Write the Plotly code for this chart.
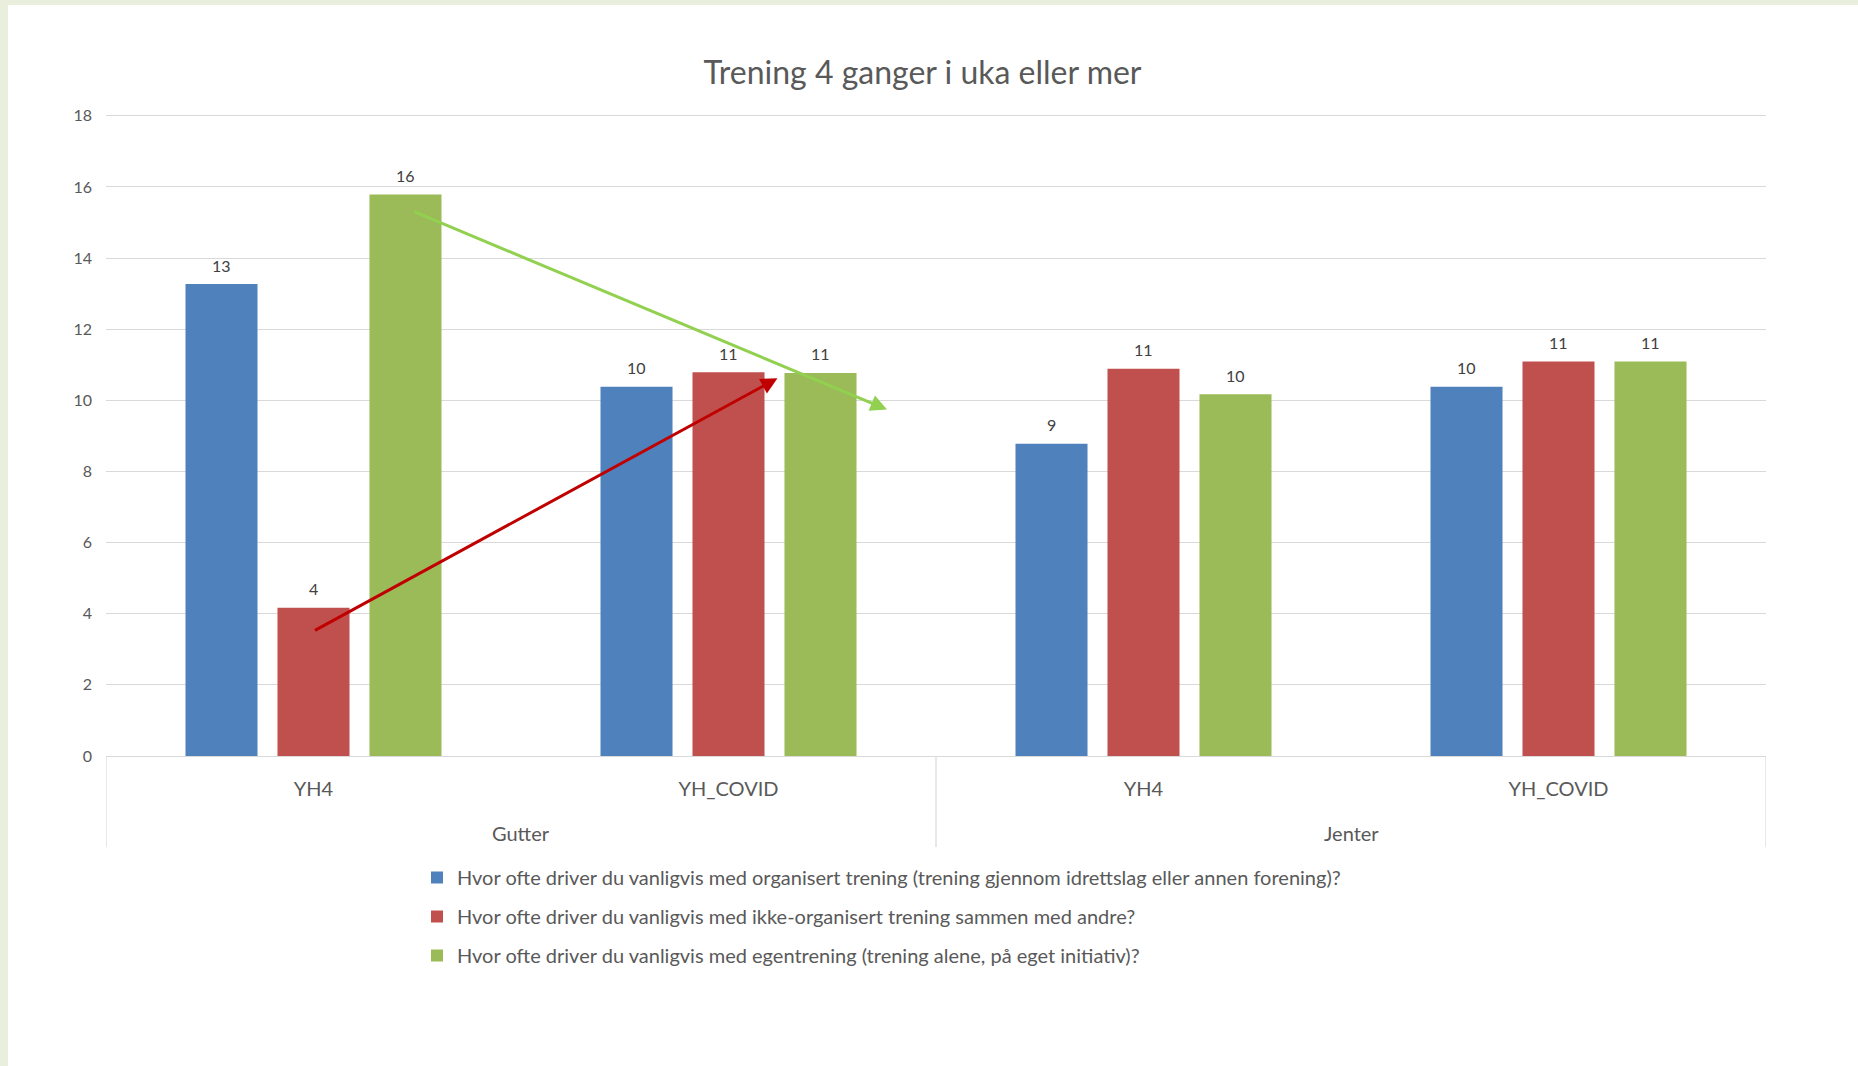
import plotly.graph_objects as go

# ---------------- data ----------------
groups = ["Gutter", "Gutter", "Jenter", "Jenter"]
periods = ["YH4", "YH_COVID", "YH4", "YH_COVID"]
gender_labels = ["Gutter", "Jenter"]

series_names = [
    "Hvor ofte driver du vanligvis med organisert trening (trening gjennom idrettslag eller annen forening)?",
    "Hvor ofte driver du vanligvis med ikke-organisert trening sammen med andre?",
    "Hvor ofte driver du vanligvis med egentrening (trening alene, på eget initiativ)?",
]
organisert = [13.27, 10.38, 8.78, 10.38]
ikke_organisert = [4.17, 10.79, 10.89, 11.09]
egentrening = [15.79, 10.77, 10.17, 11.09]
series_values = [organisert, ikke_organisert, egentrening]

y_ticks = [0, 2, 4, 6, 8, 10, 12, 14, 16, 18]

# hand-drawn trend arrows (data units: category index, value)
red_arrow_start = (0.0, 3.51)
red_arrow_end = (1.118, 10.62)
green_arrow_start = (0.239, 15.32)
green_arrow_end = (1.382, 9.74)

# ---------------- style ----------------
colors = ["#4F81BD", "#C0504D", "#9BBB59"]
FONT = "Lato, Open Sans, sans-serif"
TXT = "#595959"
GRID = "#D9D9D9"
BARGAP = 0.335
BARGROUPGAP = 0.217
PLOT_H = 642.0

x_idx = list(range(len(periods)))

fig = go.Figure()
for k, (name, vals) in enumerate(zip(series_names, series_values)):
    fig.add_trace(go.Bar(
        x=x_idx, y=vals, name=name,
        marker=dict(color=colors[k], line=dict(width=0)),
        legendgroup=f"g{k}",
        hoverinfo="skip",
    ))

annotations = []
slot = (1 - BARGAP) / len(series_values)
for k, vals in enumerate(series_values):
    for i, v in enumerate(vals):
        annotations.append(dict(
            x=i + (k - 1) * slot, y=v, xref="x", yref="y",
            text=f"{v:.0f}", showarrow=False, yanchor="middle", yshift=19,
            font=dict(family=FONT, size=16, color="#404040"),
        ))

# gender (outer category) labels
for j, g in enumerate(gender_labels):
    annotations.append(dict(
        x=2 * j + 0.5, y=-77 / PLOT_H, xref="x", yref="paper",
        text=g, showarrow=False, yanchor="middle",
        font=dict(family=FONT, size=20, color=TXT),
    ))

# arrows
for (sx, sy), (ex, ey), col in [
    (red_arrow_start, red_arrow_end, "#C00000"),
    (green_arrow_start, green_arrow_end, "#92D050"),
]:
    annotations.append(dict(
        x=ex, y=ey, ax=sx, ay=sy, xref="x", yref="y", axref="x", ayref="y",
        text="", showarrow=True, arrowhead=2, arrowsize=1.1, arrowwidth=3,
        arrowcolor=col, standoff=0, startstandoff=0,
    ))

shapes = [
    # slide background (white sheet on pale green frame)
    dict(type="rect", xref="paper", yref="paper", x0=-98 / 1660, x1=1.06,
         y0=-0.49, y1=751 / PLOT_H,
         fillcolor="white", line=dict(width=0), layer="below"),
]
for xb in [-0.5, 1.5, 3.5]:
    shapes.append(dict(type="line", xref="x", yref="paper", x0=xb, x1=xb, y0=0,
                       y1=-91 / PLOT_H, line=dict(color=GRID, width=1.2)))

fig.update_layout(
    width=1858, height=1066,
    paper_bgcolor="#EAEEDC", plot_bgcolor="white",
    margin=dict(l=106, r=92, t=114, b=310),
    barmode="group", bargap=BARGAP, bargroupgap=BARGROUPGAP,
    title=dict(text="Trening 4 ganger i uka eller mer", x=0.4965, xref="container",
               xanchor="center", y=1 - 73 / 1066, yref="container", yanchor="middle",
               font=dict(family=FONT, size=32, color=TXT)),
    xaxis=dict(range=[-0.5, 3.5], tickvals=x_idx, ticktext=periods, showgrid=False,
               showline=True, linecolor=GRID, linewidth=1.2, ticks="", zeroline=False,
               tickfont=dict(family=FONT, size=20, color=TXT), ticklabelstandoff=15),
    yaxis=dict(range=[0, 18.05], tickvals=y_ticks, showgrid=True, gridcolor=GRID, gridwidth=1.2,
               zeroline=False, showline=False, ticks="",
               tickfont=dict(family=FONT, size=16, color=TXT), ticklabelstandoff=13),
    legend=dict(orientation="v", x=(417 - 106) / 1660, xanchor="left",
                y=-102 / PLOT_H, yanchor="top", traceorder="grouped", tracegroupgap=10,
                font=dict(family=FONT, size=20, color=TXT), bgcolor="rgba(0,0,0,0)",
                itemwidth=30),
    annotations=annotations,
    shapes=shapes,
    showlegend=True,
)

fig.write_html("out.html", config={"displayModeBar": False},
               post_script="document.body.style.margin='0px';")
